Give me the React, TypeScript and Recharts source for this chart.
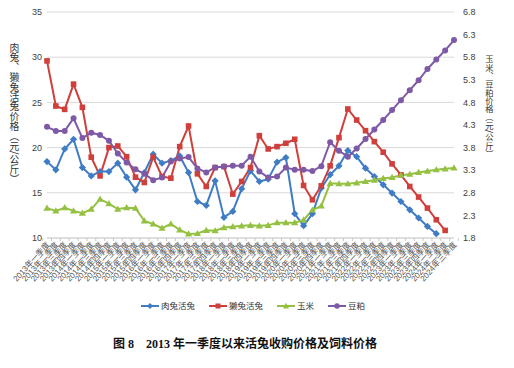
import { CartesianGrid, Line, LineChart, XAxis, YAxis } from 'recharts';

const quarters = [
  '2013年一季度', '2013年二季度', '2013年三季度', '2013年四季度',
  '2014年一季度', '2014年二季度', '2014年三季度', '2014年四季度',
  '2015年一季度', '2015年二季度', '2015年三季度', '2015年四季度',
  '2016年一季度', '2016年二季度', '2016年三季度', '2016年四季度',
  '2017年一季度', '2017年二季度', '2017年三季度', '2017年四季度',
  '2018年一季度', '2018年二季度', '2018年三季度', '2018年四季度',
  '2019年一季度', '2019年二季度', '2019年三季度', '2019年四季度',
  '2020年一季度', '2020年二季度', '2020年三季度', '2020年四季度',
  '2021年一季度', '2021年二季度', '2021年三季度', '2021年四季度',
  '2022年一季度', '2022年二季度', '2022年三季度', '2022年四季度',
  '2023年一季度', '2023年二季度', '2023年三季度', '2023年四季度',
  '2024年一季度', '2024年二季度', '2024年三季度',
];

// 肉兔活兔 (left axis, 元/公斤)
const rouTu: (number | null)[] = [
  18.45, 17.54, 19.85, 20.92, 17.79, 16.87, 17.35, 17.35, 18.28, 16.73, 15.33, 17.24,
  19.27, 18.28, 18.56, 19.08, 17.24, 14.04, 13.6, 16.32, 12.28, 12.94, 15.44, 17.43,
  16.25, 16.51, 18.39, 18.9, 12.68, 11.36, 12.68, 15.52, 17.0, 17.98, 19.67, 19.0,
  17.72, 16.8, 15.88, 14.97, 14.04, 13.12, 12.21, 11.28, 10.48, null, null,
];

// 獭兔活兔 (left axis)
const taTu: (number | null)[] = [
  29.59, 24.6, 24.23, 27.02, 24.45, 18.94, 16.87, 20.0, 20.18, 19.0, 16.73, 16.14,
  18.94, 16.8, 16.62, 20.11, 22.39, 17.1, 15.7, 17.79, 17.9, 14.86, 16.25, 17.79,
  21.32, 19.85, 20.11, 20.48, 20.92, 15.81, 14.23, 15.77, 17.98, 21.1, 24.27, 23.05,
  21.87, 20.66, 19.49, 18.2, 16.99, 15.7, 14.53, 13.31, 12.02, 10.84, null,
];

// 玉米 (right axis)
const yuMi = [
  2.46, 2.4, 2.47, 2.4, 2.35, 2.44, 2.66, 2.56, 2.44, 2.47, 2.46, 2.18,
  2.11, 2.02, 2.11, 1.98, 1.89, 1.9, 1.97, 1.96, 2.03, 2.05, 2.07, 2.08,
  2.07, 2.08, 2.14, 2.14, 2.14, 2.2, 2.42, 2.51, 3.01, 3.0, 3.0, 3.02,
  3.05, 3.08, 3.12, 3.14, 3.19, 3.21, 3.25, 3.28, 3.31, 3.33, 3.35,
];

// 豆粕 (right axis)
const douPo = [
  4.26, 4.17, 4.17, 4.45, 4.01, 4.13, 4.08, 3.95, 3.67, 3.47, 3.32, 3.22,
  3.08, 3.14, 3.49, 3.56, 3.59, 3.34, 3.25, 3.36, 3.38, 3.4, 3.4, 3.6,
  3.27, 3.14, 3.16, 3.36, 3.31, 3.31, 3.28, 3.39, 3.92, 3.73, 3.6, 3.78,
  3.99, 4.2, 4.41, 4.63, 4.85, 5.07, 5.29, 5.54, 5.75, 5.95, 6.18,
];

const leftTicks = [10, 15, 20, 25, 30, 35];
const rightTicks = [1.8, 2.3, 2.8, 3.3, 3.8, 4.3, 4.8, 5.3, 5.8, 6.3, 6.8];

const rows = quarters.map((label, i) => ({
  label,
  rouTu: rouTu[i],
  taTu: taTu[i],
  yuMi: yuMi[i],
  douPo: douPo[i],
}));

const blue = '#3f7cc4';
const red = '#cf3f3b';
const green = '#95c142';
const purple = '#7e5aa6';

const BAND = 8.65;
const cjk = '"Liberation Sans", "Noto Sans CJK SC", sans-serif';

type DotProps = { cx?: number; cy?: number; index?: number; value?: unknown };

const ok = (p: DotProps) =>
  p.cx != null && p.cy != null && !Number.isNaN(p.cx) && !Number.isNaN(p.cy) && p.value != null;

function diamond(p: DotProps) {
  if (!ok(p)) return <g key={`bd-${p.index}`} />;
  const { cx = 0, cy = 0 } = p;
  const s = 3.6;
  return (
    <path key={`bd-${p.index}`} d={`M${cx},${cy - s}L${cx + s},${cy}L${cx},${cy + s}L${cx - s},${cy}Z`} fill={blue} />
  );
}

function square(p: DotProps) {
  if (!ok(p)) return <g key={`rs-${p.index}`} />;
  const { cx = 0, cy = 0 } = p;
  return <rect key={`rs-${p.index}`} x={cx - 2.8} y={cy - 2.8} width={5.6} height={5.6} fill={red} />;
}

function triangle(p: DotProps) {
  if (!ok(p)) return <g key={`gt-${p.index}`} />;
  const { cx = 0, cy = 0 } = p;
  return (
    <path key={`gt-${p.index}`} d={`M${cx},${cy - 3.6}L${cx + 3.6},${cy + 2.6}L${cx - 3.6},${cy + 2.6}Z`} fill={green} />
  );
}

function circle(p: DotProps) {
  if (!ok(p)) return <g key={`pc-${p.index}`} />;
  return <circle key={`pc-${p.index}`} cx={p.cx} cy={p.cy} r={3} fill={purple} />;
}

function XTick({ x, y, payload, index }: { x?: number; y?: number; payload?: { value: string }; index?: number }) {
  const px = x ?? 0;
  const py = y ?? 0;
  return (
    <g>
      <line x1={px - BAND / 2} x2={px - BAND / 2} y1={py} y2={py + 3} stroke="#c8c8c8" />
      {index === quarters.length - 1 && (
        <line x1={px + BAND / 2} x2={px + BAND / 2} y1={py} y2={py + 3} stroke="#c8c8c8" />
      )}
      <text
        x={px + 3}
        y={py + 7}
        transform={`rotate(-48 ${px + 3} ${py + 7})`}
        textAnchor="end"
        fontSize={8}
        fill="#555"
        fontFamily={cjk}
      >
        {payload?.value}
      </text>
    </g>
  );
}

function LegendItem({ color, label, marker }: { color: string; label: string; marker: string }) {
  return (
    <span style={{ display: 'inline-flex', alignItems: 'center', marginRight: 14 }}>
      <svg width={18} height={8} style={{ marginRight: 2 }}>
        <line x1={0} x2={18} y1={4} y2={4} stroke={color} strokeWidth={2} />
        {marker === 'diamond' && <path d="M9,1L12,4L9,7L6,4Z" fill={color} />}
        {marker === 'square' && <rect x={6.5} y={1.5} width={5} height={5} fill={color} />}
        {marker === 'triangle' && <path d="M9,0.8L12,6.5L6,6.5Z" fill={color} />}
        {marker === 'circle' && <circle cx={9} cy={4} r={2.7} fill={color} />}
      </svg>
      <span>{label}</span>
    </span>
  );
}

const vertText = {
  writingMode: 'vertical-rl' as const,
  fill: '#333',
  fontFamily: '"Noto Sans CJK SC", sans-serif',
};

export default function App() {
  return (
    <div style={{ position: 'absolute', left: 0, top: 0, width: 514, height: 368, background: '#fff' }}>
      <LineChart width={514} height={300} data={rows} margin={{ top: 12, right: 0, left: 0, bottom: 0 }}>
        <CartesianGrid yAxisId="left" vertical={false} stroke="#d9d9d9" />
        <XAxis
          dataKey="label"
          interval={0}
          height={62}
          tickSize={0}
          tickMargin={0}
          tickLine={false}
          axisLine={{ stroke: '#d0d0d0' }}
          tick={<XTick />}
        />
        <YAxis
          yAxisId="left"
          domain={[10, 35]}
          ticks={leftTicks}
          width={47}
          tickSize={0}
          tickMargin={5}
          axisLine={false}
          tickLine={false}
          tick={{ fontSize: 9, fill: '#404040', fontFamily: '"Liberation Sans", Arial, sans-serif' }}
        />
        <YAxis
          yAxisId="right"
          orientation="right"
          domain={[1.8, 6.8]}
          ticks={rightTicks}
          width={60}
          tickSize={0}
          tickMargin={9}
          axisLine={false}
          tickLine={false}
          tickFormatter={(v: number) => v.toFixed(1)}
          tick={{ fontSize: 9, fill: '#404040', fontFamily: '"Liberation Sans", Arial, sans-serif' }}
        />
        <Line yAxisId="left" type="linear" dataKey="rouTu" stroke={blue} strokeWidth={2} dot={diamond} activeDot={false} isAnimationActive={false} name="肉兔活兔" />
        <Line yAxisId="left" type="linear" dataKey="taTu" stroke={red} strokeWidth={2} dot={square} activeDot={false} isAnimationActive={false} name="獭兔活兔" />
        <Line yAxisId="right" type="linear" dataKey="yuMi" stroke={green} strokeWidth={2} dot={triangle} activeDot={false} isAnimationActive={false} name="玉米" />
        <Line yAxisId="right" type="linear" dataKey="douPo" stroke={purple} strokeWidth={2} dot={circle} activeDot={false} isAnimationActive={false} name="豆粕" />
      </LineChart>

      <svg width={514} height={300} style={{ position: 'absolute', left: 0, top: 0, pointerEvents: 'none' }}>
        <text x={14.5} y={43} fontSize={9.8} style={vertText}>
          肉兔、獭兔活兔价格（元/公斤）
        </text>
        <text x={489.5} y={55} fontSize={8.3} style={vertText}>
          玉米、豆粕价格（元/公斤）
        </text>
      </svg>

      <div
        style={{
          position: 'absolute', left: 141, top: 300, fontSize: 8.5, lineHeight: '11px',
          color: '#333', fontFamily: '"Noto Sans CJK SC", sans-serif', display: 'flex', whiteSpace: 'nowrap',
        }}
      >
        <LegendItem color={blue} label="肉兔活兔" marker="diamond" />
        <LegendItem color={red} label="獭兔活兔" marker="square" />
        <LegendItem color={green} label="玉米" marker="triangle" />
        <LegendItem color={purple} label="豆粕" marker="circle" />
      </div>

      <div
        style={{
          position: 'absolute', left: 113, top: 334, fontSize: 12, fontWeight: 'bold', whiteSpace: 'pre',
          color: '#111', fontFamily: '"Liberation Serif", "Noto Sans CJK SC", serif',
        }}
      >
        {'图 8    2013 年一季度以来活兔收购价格及饲料价格'}
      </div>
    </div>
  );
}
